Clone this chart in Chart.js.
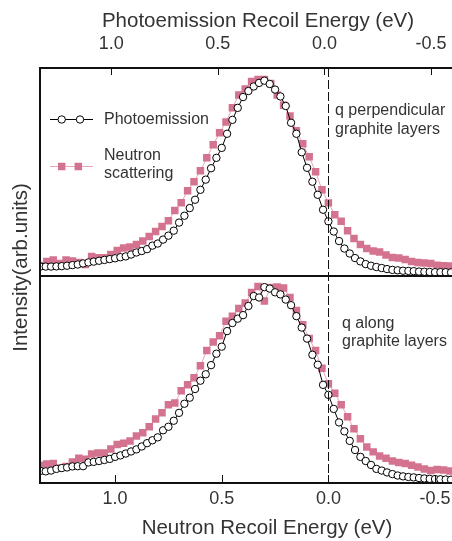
<!DOCTYPE html>
<html>
<head>
<meta charset="utf-8">
<script src="https://cdn.jsdelivr.net/npm/chart.js@4.4.1/dist/chart.umd.min.js"></script>
<style>
  html, body { margin: 0; padding: 0; background: #fff; }
</style>
</head>
<body>
<canvas id="recoilChart" width="452" height="541"></canvas>
<script>
// photoemission points (eV, bottom scale)
var photoEnergy = [1.35, 1.325, 1.3, 1.275, 1.25, 1.225, 1.2, 1.175, 1.15, 1.125, 1.1, 1.075, 1.05, 1.025, 1.0,
    0.975, 0.95, 0.925, 0.9, 0.875, 0.85, 0.825, 0.8, 0.775, 0.75, 0.725, 0.7, 0.675, 0.65, 0.625, 0.6, 0.575, 0.55, 0.525, 0.5,
    0.475, 0.45, 0.425, 0.4, 0.375, 0.35, 0.325, 0.3, 0.275, 0.25, 0.225, 0.2, 0.175, 0.15, 0.125, 0.1, 0.075, 0.05, 0.025, 0.0,
    -0.025, -0.05, -0.075, -0.1, -0.125, -0.15, -0.175, -0.2, -0.225, -0.25, -0.275, -0.3, -0.325, -0.35, -0.375, -0.4,
    -0.425, -0.45, -0.475, -0.5, -0.525, -0.55, -0.575];
var photoPerp = [4.3, 4.3, 4.3, 4.4, 4.5, 4.7, 5.0, 5.3, 5.8, 6.3, 6.7, 7.1, 7.5, 7.9, 8.3,
    8.8, 9.2, 10.1, 11.1, 11.8, 12.7, 14.4, 15.4, 17.3, 19.2, 21.6, 25.5, 28.8, 32.5, 36.5, 41.3, 46.2, 51.7, 56.7, 61.5,
    68.3, 75.0, 80.8, 86.0, 88.9, 91.1, 92.8, 93.9, 92.3, 89.6, 86.3, 81.7, 73.6, 68.3, 59.4, 51.9, 45.2, 38.9, 31.7, 26.1,
    21.2, 16.6, 13.0, 10.6, 8.4, 6.8, 5.5, 4.7, 4.1, 3.6, 3.1, 2.7, 2.5, 2.3, 2.2, 2.1, 1.9, 1.8, 1.7, 1.6, 1.6, 1.6, 1.5];
var photoAlong = [5.8, 5.6, 6.0, 6.8, 7.2, 7.5, 8.0, 8.1, 8.1, 9.9, 10.2, 10.6, 11.1, 11.6, 12.6,
    13.3, 14.2, 15.2, 16.2, 17.6, 19.2, 20.6, 22.0, 25.4, 27.1, 30.0, 33.8, 38.2, 41.1, 45.3, 49.3, 52.4, 56.8, 62.3, 65.7,
    73.2, 77.1, 79.2, 80.9, 85.3, 90.1, 89.4, 94.4, 93.7, 91.9, 90.9, 88.4, 85.7, 80.4, 74.9, 69.6, 61.8, 57.0, 47.3, 42.5,
    35.7, 29.2, 24.9, 20.3, 15.9, 12.6, 10.6, 8.7, 6.8, 6.0, 5.1, 4.3, 3.6, 3.2, 2.9, 2.7, 2.4, 2.2, 2.0, 1.9, 1.8, 1.7, 1.6];

// neutron scattering points
var neutronEnergy = [1.35, 1.32, 1.29, 1.26, 1.23, 1.2, 1.17, 1.14, 1.11, 1.08, 1.05, 1.02,
    0.99, 0.96, 0.93, 0.9, 0.87, 0.84, 0.81, 0.78, 0.75, 0.72, 0.69, 0.66, 0.63, 0.6, 0.57, 0.54, 0.51,
    0.48, 0.45, 0.42, 0.39, 0.36, 0.33, 0.3, 0.27, 0.24, 0.21, 0.18, 0.15, 0.12, 0.09, 0.06, 0.03, 0.0,
    -0.03, -0.06, -0.09, -0.12, -0.15, -0.18, -0.21, -0.24, -0.27, -0.3, -0.33, -0.36, -0.39, -0.42, -0.45, -0.48, -0.51, -0.54, -0.57];
var neutronPerp = [4.8, 6.7, 7.5, 5.8, 7.5, 7.0, 6.3, 5.3, 9.1, 8.5, 8.5, 10.1,
    12.0, 13.3, 13.7, 14.9, 16.6, 18.8, 21.2, 23.6, 26.4, 31.3, 35.1, 40.9, 45.2, 50.5, 56.7, 63.0, 68.8,
    74.0, 80.8, 87.0, 89.9, 93.5, 94.5, 94.5, 92.5, 87.0, 82.0, 76.9, 69.7, 63.5, 57.2, 50.0, 41.3, 35.0,
    29.3, 26.2, 21.6, 17.8, 14.9, 13.0, 11.8, 11.3, 9.9, 8.7, 8.4, 7.7, 6.7, 6.3, 6.0, 5.8, 5.0, 4.7, 4.6];
var neutronAlong = [8.5, 9.2, 9.4, 7.2, 8.0, 10.1, 11.9, 11.4, 14.0, 14.5, 14.5, 16.4,
    18.6, 19.2, 20.3, 22.7, 24.2, 27.1, 30.9, 33.8, 37.7, 38.5, 44.4, 47.3, 50.7, 56.5, 63.8, 67.9, 71.0,
    78.0, 80.4, 84.1, 86.7, 91.8, 94.7, 87.7, 94.2, 94.4, 94.0, 89.4, 83.1, 76.3, 69.6, 63.8, 55.3, 47.8,
    43.3, 37.7, 31.9, 26.1, 21.3, 17.4, 15.0, 13.0, 11.9, 10.6, 9.9, 9.4, 8.5, 7.7, 6.8, 6.0, 6.5, 6.3, 5.8];

var tickValues = [1.0, 0.5, 0.0, -0.5];

var FONT = "'Liberation Sans', Arial, Helvetica, sans-serif";
var TEXT = '#333';
var PINK = '#d4738f';

function pts(xs, ys) {
    return xs.map(function (x, i) { return { x: x, y: ys[i] }; });
}

function photoSet(label, data, axis) {
    return {
        label: label, data: data, yAxisID: axis,
        borderColor: '#000', borderWidth: 1,
        pointStyle: 'circle', pointRadius: 3.7,
        pointBackgroundColor: '#fff', pointBorderColor: '#000', pointBorderWidth: 1
    };
}
function neutronSet(label, data, axis) {
    return {
        label: label, data: data, yAxisID: axis,
        borderColor: '#e8a6b9', borderWidth: 1,
        pointStyle: 'rect', pointRadius: 5.3,
        pointBackgroundColor: PINK, pointBorderWidth: 0
    };
}

function xAxis(pos, min, max, height, pad) {
    return {
        type: 'linear', position: pos, reverse: true, min: min, max: max,
        grid: { display: false, drawTicks: false },
        border: { display: false },
        ticks: {
            padding: pad, color: TEXT, maxRotation: 0, autoSkip: false,
            font: { family: FONT, size: 18 },
            callback: function (v) { return Number(v).toFixed(1); }
        },
        afterBuildTicks: function (s) { s.ticks = tickValues.map(function (v) { return { value: v }; }); },
        afterFit: function (s) {
            s.height = height;
            s.paddingLeft = 0; s.paddingRight = 0;
        }
    };
}
function yAxis() {
    return {
        type: 'linear', position: 'left', stack: 'panels', stackWeight: 1, min: 0, max: 100,
        grid: { display: false, drawTicks: false },
        border: { display: false },
        ticks: { display: false },
        afterFit: function (s) {
            s.width = 40;
            s.paddingTop = 0; s.paddingBottom = 0;
        }
    };
}

// frame, inward ticks, dashed zero line, legend and labels
var decorPlugin = {
    id: 'decor',
    afterDatasetsDraw: function (chart) {
        var ctx = chart.ctx, a = chart.chartArea;
        var xb = chart.scales.x, xt = chart.scales.xTop, yt = chart.scales.yTop;
        var H = Chart.helpers;
        ctx.save();

        var zx = Math.round(xb.getPixelForValue(0)) + 0.5;
        ctx.strokeStyle = '#111';
        ctx.lineWidth = 1;
        ctx.setLineDash([9, 3]);
        ctx.beginPath(); ctx.moveTo(zx, a.top); ctx.lineTo(zx, a.bottom); ctx.stroke();
        ctx.setLineDash([]);

        ctx.lineWidth = 2;
        var mid = Math.round(yt.bottom);
        ctx.beginPath();
        ctx.moveTo(a.right + 2, a.top); ctx.lineTo(a.left, a.top);
        ctx.lineTo(a.left, a.bottom); ctx.lineTo(a.right + 2, a.bottom);
        ctx.moveTo(a.left, mid); ctx.lineTo(a.right + 2, mid);
        ctx.stroke();

        ctx.lineWidth = 1;
        ctx.beginPath();
        tickValues.forEach(function (v) {
            var px = Math.round(xb.getPixelForValue(v)) + 0.5;
            ctx.moveTo(px, a.bottom); ctx.lineTo(px, a.bottom - 8);
            var pt = Math.round(xt.getPixelForValue(v)) + 0.5;
            ctx.moveTo(pt, a.top); ctx.lineTo(pt, a.top + 7);
        });
        ctx.stroke();

        // axis titles
        ctx.fillStyle = TEXT;
        ctx.textBaseline = 'middle';
        ctx.textAlign = 'center';
        ctx.font = '20.5px ' + FONT;
        ctx.fillText('Photoemission Recoil Energy (eV)', 258, 21);
        ctx.fillText('Neutron Recoil Energy (eV)', 267, 528);
        ctx.save();
        ctx.translate(21, 267.5);
        ctx.rotate(-Math.PI / 2);
        ctx.fillText('Intensity(arb.units)', 0, 0);
        ctx.restore();

        // legend
        var ds = chart.data.datasets;
        ctx.textAlign = 'left';
        ctx.font = '16px ' + FONT;
        ctx.strokeStyle = ds[0].borderColor;
        ctx.beginPath(); ctx.moveTo(50, 119.5); ctx.lineTo(93, 119.5); ctx.stroke();
        ctx.fillStyle = '#fff';
        [61.7, 80].forEach(function (x) {
            H.drawPoint(ctx, { pointStyle: 'circle', radius: 3.7, borderWidth: 1, rotation: 0 }, x, 119.5);
        });
        ctx.strokeStyle = ds[1].borderColor;
        ctx.beginPath(); ctx.moveTo(50, 166.5); ctx.lineTo(93, 166.5); ctx.stroke();
        ctx.fillStyle = PINK;
        ctx.strokeStyle = PINK;
        [61.7, 78.3].forEach(function (x) {
            H.drawPoint(ctx, { pointStyle: 'rect', radius: 5.3, borderWidth: 0, rotation: 0 }, x, 166.5);
        });
        ctx.fillStyle = TEXT;
        ctx.fillText(ds[0].label, 104, 119.5);
        ctx.fillText('Neutron', 104, 156);
        ctx.fillText('scattering', 104, 174);

        // panel notes
        ctx.fillText('q perpendicular', 335, 110.5);
        ctx.fillText('graphite layers', 335, 129.5);
        ctx.fillText('q along', 342, 323.5);
        ctx.fillText('graphite layers', 342, 341.5);

        ctx.restore();
    }
};

var ctx = document.getElementById('recoilChart').getContext('2d');
var recoilChart = new Chart(ctx, {
    type: 'line',
    data: {
        datasets: [
            photoSet('Photoemission', pts(photoEnergy, photoPerp), 'yTop'),
            neutronSet('Neutron scattering', pts(neutronEnergy, neutronPerp), 'yTop'),
            photoSet('Photoemission (along)', pts(photoEnergy, photoAlong), 'yBot'),
            neutronSet('Neutron scattering (along)', pts(neutronEnergy, neutronAlong), 'yBot')
        ]
    },
    options: {
        responsive: false,
        animation: false,
        devicePixelRatio: 1,
        layout: { padding: 0, autoPadding: false },
        plugins: { legend: { display: false }, tooltip: { enabled: false } },
        scales: {
            x: xAxis('bottom', -0.5795, 1.352, 58, 5),
            xTop: xAxis('top', -0.598, 1.334, 68, 13),
            yBot: yAxis(),
            yTop: yAxis()
        }
    },
    plugins: [decorPlugin]
});
</script>
</body>
</html>
